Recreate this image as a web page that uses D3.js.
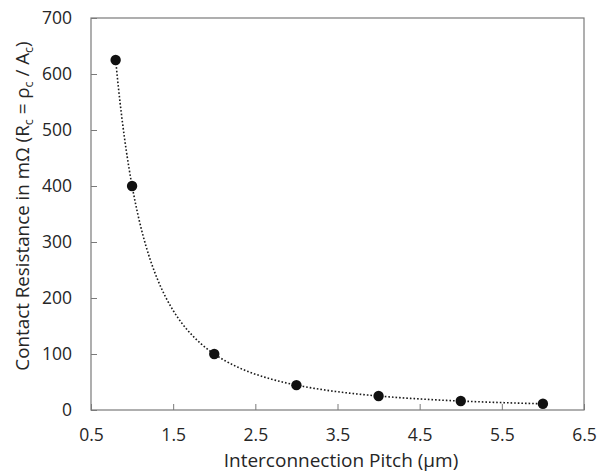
<!DOCTYPE html>
<html>
<head>
<meta charset="utf-8">
<script src="https://cdn.jsdelivr.net/npm/d3@7"></script>
<style>
  html, body { margin: 0; padding: 0; background: #fff; }
  svg text { font-family: "Open Sans", Carlito, Calibri, sans-serif; fill: #262626; }
</style>
</head>
<body>
<svg id="chart" width="599" height="475"></svg>
<script>
// Contact resistance against interconnection pitch
const pitch = [0.8, 1, 2, 3, 4, 5, 6];
const resistance = [625, 400, 100, 44.4, 25, 16, 11.1];
const xTicks = [0.5, 1.5, 2.5, 3.5, 4.5, 5.5, 6.5];
const yTicks = [0, 100, 200, 300, 400, 500, 600, 700];

const svg = d3.select("#chart");
const margin = { left: 91, right: 15, top: 18, bottom: 65 };
const W = 599, H = 475;

const x = d3.scaleLinear().domain([0.5, 6.5]).range([margin.left, W - margin.right]);
const y = d3.scaleLinear().domain([0, 700]).range([H - margin.bottom, margin.top]);

// plot frame
svg.append("rect")
  .attr("x", x(0.5)).attr("y", y(700))
  .attr("width", x(6.5) - x(0.5)).attr("height", y(0) - y(700))
  .attr("fill", "none").attr("stroke", "#7a7a7a").attr("stroke-width", 1.2);

// y axis: inward ticks
const yAxis = d3.axisLeft(y).tickValues(yTicks).tickSize(-6).tickPadding(19).tickFormat(d3.format("d"));
const gy = svg.append("g").attr("transform", `translate(${x(0.5)},0)`).call(yAxis);
gy.select(".domain").remove();
gy.selectAll(".tick line").attr("stroke", "#7a7a7a");
gy.selectAll(".tick text").attr("font-size", 17.5);

// x axis: inward ticks
const xAxis = d3.axisBottom(x).tickValues(xTicks).tickSize(-6).tickPadding(18.5).tickFormat(d3.format(".1f"));
const gx = svg.append("g").attr("transform", `translate(0,${y(0)})`).call(xAxis);
gx.select(".domain").remove();
gx.selectAll(".tick line").attr("stroke", "#7a7a7a");
gx.selectAll(".tick text").attr("font-size", 17.5);

// power-law trendline fitted to the points (least squares in log space)
const lx = pitch.map(Math.log), ly = resistance.map(Math.log);
const mx = d3.mean(lx), my = d3.mean(ly);
const b = d3.sum(lx, (v, i) => (v - mx) * (ly[i] - my)) / d3.sum(lx, v => (v - mx) * (v - mx));
const a = Math.exp(my - b * mx);
const fitX = d3.range(0, 201).map(i => pitch[0] + (pitch[pitch.length - 1] - pitch[0]) * i / 200);
svg.append("path")
  .datum(fitX)
  .attr("d", d3.line().x(d => x(d)).y(d => y(a * Math.pow(d, b))))
  .attr("fill", "none").attr("stroke", "#1a1a1a")
  .attr("stroke-width", 1.6).attr("stroke-dasharray", "1.6,2");

// data points
svg.append("g").selectAll("circle")
  .data(pitch.map((p, i) => [p, resistance[i]]))
  .join("circle")
  .attr("cx", d => x(d[0])).attr("cy", d => y(d[1]))
  .attr("r", 5.2).attr("fill", "#111");

// axis titles
svg.append("text")
  .attr("x", 341).attr("y", 467)
  .attr("text-anchor", "middle").attr("font-size", 19)
  .text("Interconnection Pitch (µm)");

const yt = svg.append("text")
  .attr("transform", `translate(29,206) rotate(-90)`)
  .attr("text-anchor", "middle").attr("font-size", 18.8);
yt.append("tspan").text("Contact Resistance in mΩ (R");
yt.append("tspan").attr("font-size", 12.5).attr("dy", 4).text("c");
yt.append("tspan").attr("dy", -4).text(" = ρ");
yt.append("tspan").attr("font-size", 12.5).attr("dy", 4).text("c");
yt.append("tspan").attr("dy", -4).text(" / A");
yt.append("tspan").attr("font-size", 12.5).attr("dy", 4).text("c");
yt.append("tspan").attr("dy", -4).text(")");
</script>
</body>
</html>
